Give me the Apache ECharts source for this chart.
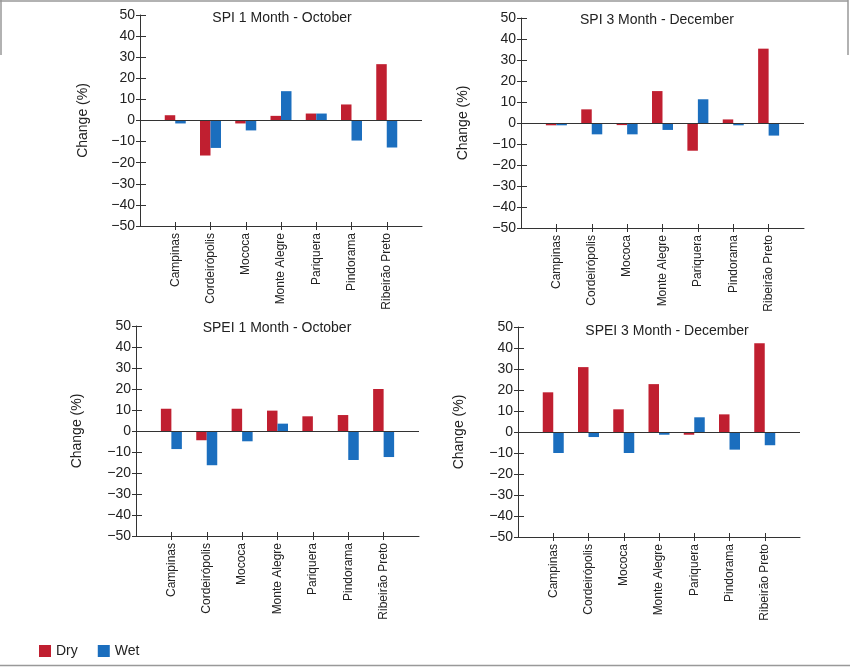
<!DOCTYPE html>
<html>
<head>
<meta charset="utf-8">
<script src="https://cdn.jsdelivr.net/npm/echarts@6/dist/echarts.min.js"></script>
<style>
html,body{margin:0;padding:0;background:#fff;}
#chart{width:850px;height:667px;}
</style>
</head>
<body>
<div id="chart"></div>
<script>
const stations = ['Campinas', 'Cordeirópolis', 'Mococa', 'Monte Alegre', 'Pariquera', 'Pindorama', 'Ribeirão Preto'];
const panelTitles = ['SPI 1 Month - October', 'SPI 3 Month - December', 'SPEI 1 Month - October', 'SPEI 3 Month - December'];
const yTicks = [-50, -40, -30, -20, -10, 0, 10, 20, 30, 40, 50];

const spi1Dry  = [2.5, -16.6, -1.4, 2.2, 3.3, 7.6, 26.7];
const spi1Wet  = [-1.4, -13.0, -4.7, 13.9, 3.3, -9.5, -12.8];
const spi3Dry  = [-1.1, 6.5, -1.0, 15.2, -13.2, 1.7, 35.4];
const spi3Wet  = [-1.1, -5.4, -5.4, -3.3, 11.3, -1.1, -6.0];
const spei1Dry = [10.6, -4.4, 10.6, 9.7, 7.0, 7.6, 20.0];
const spei1Wet = [-8.6, -16.3, -4.9, 3.5, 0, -13.8, -12.4];
const spei3Dry = [18.9, 30.9, 10.8, 22.8, -1.3, 8.4, 42.3];
const spei3Wet = [-10.0, -2.4, -10.0, -1.3, 7.0, -8.4, -6.3];

const dryData = [spi1Dry, spi3Dry, spei1Dry, spei3Dry];
const wetData = [spi1Wet, spi3Wet, spei1Wet, spei3Wet];

const RED = '#C01F30', BLUE = '#1B6EBE';
const FONT = 'Liberation Sans, Arial, sans-serif';

// layout of the four panels (pixels)
const panels = [
  {left: 140, top: 15, width: 282, height: 211, tx: 277, ty: 6, gap: 50},
  {left: 521, top: 18, width: 283, height: 210, tx: 652, ty: 8, gap: 51},
  {left: 136, top: 326, width: 283, height: 210, tx: 272, ty: 316, gap: 52},
  {left: 518, top: 327, width: 282, height: 210, tx: 662, ty: 319, gap: 52}
];

const cats = [''].concat(stations, ['']);
const pad = arr => ['-'].concat(arr, ['-']);
const tickShow = i => i > 0 && i < cats.length - 1;

const grid = [], xAxis = [], yAxis = [], series = [], title = [];
panels.forEach((p, k) => {
  grid.push({left: p.left, top: p.top, width: p.width, height: p.height, containLabel: false});
  title.push({text: panelTitles[k], left: p.tx, top: p.ty, textAlign: 'center',
    textStyle: {fontFamily: FONT, fontSize: 14, fontWeight: 'normal', color: '#222'}});
  // main x axis
  xAxis.push({type: 'category', gridIndex: k, data: cats, boundaryGap: false, position: 'bottom',
    axisLine: {onZero: false, lineStyle: {color: '#333', width: 1}},
    axisTick: {length: 4, interval: tickShow, lineStyle: {color: '#333'}},
    axisLabel: {rotate: 90, interval: 0, fontSize: 12, fontFamily: FONT, color: '#222', margin: 7},
    splitLine: {show: false}});
  // inner ticks
  xAxis.push({type: 'category', gridIndex: k, data: cats, boundaryGap: false, position: 'bottom',
    axisLine: {show: false, onZero: false},
    axisTick: {inside: true, length: 4, interval: tickShow, lineStyle: {color: '#333'}},
    axisLabel: {show: false}, splitLine: {show: false}});
  yAxis.push({type: 'value', gridIndex: k, position: 'left', min: yTicks[0], max: yTicks[yTicks.length - 1], interval: 10,
    name: 'Change (%)', nameLocation: 'middle', nameGap: p.gap,
    nameTextStyle: {fontFamily: FONT, fontSize: 14, color: '#222'},
    axisLine: {show: true, onZero: false, lineStyle: {color: '#333', width: 1}},
    axisTick: {show: true, length: 4, lineStyle: {color: '#333'}},
    axisLabel: {fontSize: 14, fontFamily: FONT, color: '#222', margin: 5,
      formatter: v => String(v).replace('-', '\u2212')},
    splitLine: {show: false}});
  yAxis.push({type: 'value', gridIndex: k, position: 'left', offset: 0, min: yTicks[0], max: yTicks[yTicks.length - 1], interval: 10,
    axisLine: {show: false, onZero: false}, axisTick: {show: true, inside: true, length: 6, lineStyle: {color: '#333'}},
    axisLabel: {show: false}, splitLine: {show: false}});
  series.push({name: 'Dry', type: 'bar', xAxisIndex: 2 * k, yAxisIndex: 2 * k, data: pad(dryData[k]),
    barWidth: 10.5, barGap: '0%', itemStyle: {color: RED}, silent: true,
    markLine: {silent: true, symbol: 'none', label: {show: false},
      lineStyle: {color: '#333', width: 1, type: 'solid'}, data: [{yAxis: 0}]}});
  series.push({name: 'Wet', type: 'bar', xAxisIndex: 2 * k, yAxisIndex: 2 * k, data: pad(wetData[k]),
    barWidth: 10.5, barGap: '0%', itemStyle: {color: BLUE}, silent: true});
});

const frame = {type: 'group', silent: true, children: [
  {type: 'line', shape: {x1: 0, y1: 1, x2: 848, y2: 1}, style: {stroke: '#999', lineWidth: 1.5}},
  {type: 'line', shape: {x1: 1, y1: 0, x2: 1, y2: 55}, style: {stroke: '#999', lineWidth: 1.5}},
  {type: 'line', shape: {x1: 848, y1: 0, x2: 848, y2: 55}, style: {stroke: '#999', lineWidth: 1.5}},
  {type: 'line', shape: {x1: 0, y1: 665.5, x2: 850, y2: 665.5}, style: {stroke: '#999', lineWidth: 1.5}}
]};

const chart = echarts.init(document.getElementById('chart'), null, {renderer: 'canvas'});
chart.setOption({
  backgroundColor: '#fff',
  animation: false,
  title: title,
  legend: {data: ['Dry', 'Wet'], left: 39, top: 644, padding: 0, itemWidth: 12, itemHeight: 12, itemGap: 20,
    icon: 'rect', textStyle: {fontFamily: FONT, fontSize: 14, color: '#222'}},
  grid: grid, xAxis: xAxis, yAxis: yAxis, series: series,
  graphic: [frame]
});
</script>
</body>
</html>
